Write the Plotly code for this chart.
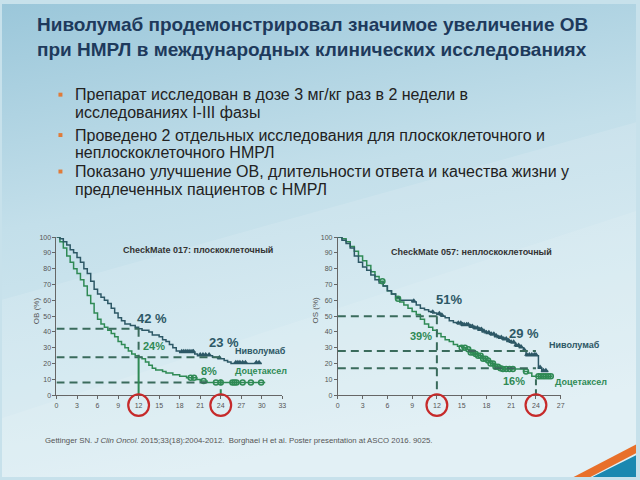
import base64
import plotly.graph_objects as go

# ---------------- data ----------------
title_lines = ["Ниволумаб продемонстрировал значимое увеличение ОВ",
               "при НМРЛ в международных клинических исследованиях"]
bullet_lines = [["Препарат исследован в дозе 3 мг/кг раз в 2 недели в", "исследованиях I-III фазы"],
                ["Проведено 2 отдельных исследования для плоскоклеточного и", "неплоскоклеточного НМРЛ"],
                ["Показано улучшение ОВ, длительности ответа и качества жизни у", "предлеченных пациентов с НМРЛ"]]

# CheckMate 017 (left)
L_niv_t = [0,0.5,1,1.5,2,2.5,3,3.5,4,4.5,5,5.5,6,6.5,7,7.5,8,8.5,9,9.5,10,10.8,11.5,12,12.5,13.5,14,15,15.5,16,16.5,17,17.5,18,20.2,20.6,22.8,23.6,24.5,25,25.5,30]
L_niv_s = [100,99,97,95,92,90,87,84,80,77,72,67,64,62,60,58,55,52,49,47,45,44,43,42,41,40,38,37,35,34,32,30,28,27,26,25,24,23,22,21,20,20]
L_doc_t = [0,0.5,1,1.5,2,2.5,3,3.5,4,4.5,5,5.5,6,6.5,7,7.5,8,8.5,9,9.5,10,10.5,11,11.5,12,12.5,13,13.5,14,14.5,15.5,16,17,18,19,20.5,21,22,30.5]
L_doc_s = [100,97,93,88,84,80,77,73,69,63,58,52,48,45,43,41,39,37,34,32,30,28,26,25,24,23,21,19,17,16,15,14,13,12,11,10,9,8,8]
L_niv_cens = [18.3,18.6,18.9,19.2,19.5,19.8,20.0,21.0,21.4,21.8,22.3,23.8,26.2,26.5,26.8,27.2,27.6,29.2,29.6]
L_doc_cens = [19.6,20.1,21.5,23.3,24.0,25.7,26.0,26.3,27.2,28.4,29.9]

# CheckMate 057 (right)
R_niv_t = [0,0.5,1,1.5,2,2.5,3,3.5,4,4.5,5,5.5,6,6.5,7,7.5,9,9.5,10,10.5,11,11.5,12,12.5,13,13.5,14,14.5,15,16,16.5,17,17.5,18,18.5,19,19.5,20,20.5,21,21.5,22,22.5,22.8,24.3,24.7,25.5]
R_niv_s = [100,98,96,93,88,84,81,79,76,73,71,69,66,64,62,60,59,57,55,54,53,52,51,50,49,47,46,45,44,43,42,41,40,39,38,37,36,35,34,33,31,30,28,25,17,15,15]
R_doc_t = [0,0.5,1,1.5,2,2.5,3,3.5,4,4.5,5,5.5,6,6.5,7,7.5,8,8.5,9,9.5,10,10.5,11,11.5,12,12.5,13,13.5,14,14.5,15,15.5,16,16.5,17,17.5,18,18.5,19,19.5,20,22.5,23,23.5,26]
R_doc_s = [100,99,97,94,91,88,85,82,78,75,72,69,66,64,61,59,57,55,53,51,48,45,43,41,39,37,35,34,32,31,30,29,27,26,25,23,22,20,18,17,16.5,15,14,12,12]
R_niv_cens = [9.2,11.5,12.3,12.6,14.6,14.9,15.1,15.3,15.6,15.8,16.1,16.3,16.6,16.9,17.2,17.4,17.7,18.0,18.3,18.6,18.9,19.2,19.5,19.8,20.1,20.4,20.7,21.0,21.3,21.6,21.9,22.2,22.6,22.9,23.2,23.5,23.8,24.0,24.5,24.9,25.2]
R_doc_cens = [5.4,7.3,15.0,15.4,15.8,16.1,16.4,16.7,17.0,17.3,17.6,17.9,18.2,18.5,18.8,19.1,19.4,19.7,20.0,20.4,20.8,21.2,22.8,24.3,24.6,24.9,25.2,25.5,25.8]

L_xticks = list(range(0, 34, 3))
R_xticks = list(range(0, 28, 3))
y_ticks = list(range(0, 101, 10))
L_ref = [42, 24, 8]   # reference levels
R_ref = [50, 28, 17]
marked_months = [12, 24]

footnote = ("Gettinger SN. <i>J Clin Oncol.</i> 2015;33(18):2004-2012.  "
            "Borghaei H et al. Poster presentation at ASCO 2016. 9025.")

# ---------------- style ----------------
W, H = 640, 480
NIV = "#2d5866"
DOC = "#2f8a55"
DASH = "#3a6b5c"
RED = "#c62a2a"
TICK = "#555555"
FONT = "Liberation Sans, Arial, sans-serif"

def px(x): return x / W
def py(y): return 1 - y / H

def km_at(ts, ss, t):
    v = ss[0]
    for a, b in zip(ts, ss):
        if a <= t:
            v = b
    return v

bg_svg = f'''<svg xmlns="http://www.w3.org/2000/svg" width="{W}" height="{H}">
<defs>
<linearGradient id="g" x1="0" y1="0" x2="0.25" y2="1">
<stop offset="0" stop-color="#9bc7da"/>
<stop offset="0.45" stop-color="#c3dfea"/>
<stop offset="1" stop-color="#dbedf3"/>
</linearGradient>
</defs>
<rect width="{W}" height="{H}" fill="url(#g)"/>
<polygon points="0,300 640,120 640,480 0,480" fill="#ffffff" opacity="0.12"/>
<polygon points="0,420 640,210 640,480 0,480" fill="#ffffff" opacity="0.10"/>
<polygon points="577,480 640,447 640,456 594,480" fill="#e8702a"/>
<polygon points="596,480 640,458 640,480" fill="#1a88b0"/>
</svg>'''
bg_src = "data:image/svg+xml;base64," + base64.b64encode(bg_svg.encode()).decode()

# axis geometry (pixels)
L_dom = [55, 283]
R_dom = [339, 564]
Y_dom = [397, 236.5]

fig = go.Figure()

def add_panel(xa, ya, niv_t, niv_s, doc_t, doc_s, niv_c, doc_c):
    fig.add_trace(go.Scatter(x=doc_t, y=doc_s, mode="lines", line=dict(color=DOC, width=1.5, shape="hv"),
                             xaxis=xa, yaxis=ya, showlegend=False, hoverinfo="skip"))
    fig.add_trace(go.Scatter(x=niv_t, y=niv_s, mode="lines", line=dict(color=NIV, width=1.5, shape="hv"),
                             xaxis=xa, yaxis=ya, showlegend=False, hoverinfo="skip"))
    fig.add_trace(go.Scatter(x=doc_c, y=[km_at(doc_t, doc_s, t) for t in doc_c], mode="markers",
                             marker=dict(symbol="circle-open", size=5, color=DOC, line=dict(width=1.5)),
                             xaxis=xa, yaxis=ya, showlegend=False, hoverinfo="skip"))
    fig.add_trace(go.Scatter(x=niv_c, y=[km_at(niv_t, niv_s, t) + 0.8 for t in niv_c], mode="markers",
                             marker=dict(symbol="triangle-up", size=5, color=NIV),
                             xaxis=xa, yaxis=ya, showlegend=False, hoverinfo="skip"))

add_panel("x", "y", L_niv_t, L_niv_s, L_doc_t, L_doc_s, L_niv_cens, L_doc_cens)
add_panel("x2", "y2", R_niv_t, R_niv_s, R_doc_t, R_doc_s, R_niv_cens, R_doc_cens)

shapes = []
def seg(xr, yr, x0, y0, x1, y1, color, dash="8px,5px", width=2):
    shapes.append(dict(type="line", xref=xr, yref=yr, x0=x0, y0=y0, x1=x1, y1=y1,
                       line=dict(color=color, width=width, dash=dash), layer="above"))

# left reference lines
seg("x", "y", 0, L_ref[0], 12, L_ref[0], DASH)
seg("x", "y", 0, L_ref[1], 24, L_ref[1], DASH)
seg("x", "y", 0, L_ref[2], 22, L_ref[2], DASH)
seg("x", "y", 12, L_ref[0], 12, L_ref[1], DASH)
seg("x", "y", 12, L_ref[1], 12, 0, DOC, dash="solid", width=2)
seg("x", "y", 24, 0, 24, 10, DOC, dash="6px,4px", width=2)
# right reference lines
seg("x2", "y2", 0, R_ref[0], 12, R_ref[0], DASH)
seg("x2", "y2", 0, R_ref[1], 24, R_ref[1], DASH)
seg("x2", "y2", 0, R_ref[2], 24, R_ref[2], DASH)
seg("x2", "y2", 12, R_ref[0], 12, 0, DASH)
seg("x2", "y2", 24, 0, 24, 12, DASH, dash="6px,4px")

# red circles around the 12 and 24 month tick labels (paper coords, outside plot clip)
for dom, rng in ((L_dom, 33), (R_dom, 27)):
    for t in marked_months:
        cx = dom[0] + (dom[1] - dom[0]) * t / rng
        shapes.append(dict(type="circle", xref="paper", yref="paper",
                           x0=px(cx - 10.5), x1=px(cx + 10.5), y0=py(396), y1=py(418),
                           line=dict(color=RED, width=2.2), layer="above"))

ann = []
def txt(x, y, s, size, color, bold=False, xanchor="center", family=FONT, **kw):
    ann.append(dict(x=px(x), y=py(y), xref="paper", yref="paper", text=(f"<b>{s}</b>" if bold else s),
                    showarrow=False, xanchor=xanchor, yanchor="middle",
                    font=dict(size=size, color=color, family=family), **kw))

# title
txt(33, 21, title_lines[0], 19, "#1e3a5c", bold=True, xanchor="left")
txt(33, 46, title_lines[1], 19, "#1e3a5c", bold=True, xanchor="left")
# bullets
bullet_y = [(92, 110), (133, 151), (170, 188)]
for lines, ys in zip(bullet_lines, bullet_y):
    for s, y in zip(lines, ys):
        txt(72, y, s, 16, "#222222", xanchor="left")
    shapes.append(dict(type="rect", xref="paper", yref="paper",
                       x0=px(57), x1=px(61), y0=py(ys[0] + 2), y1=py(ys[0] - 2),
                       fillcolor="#e07b39", line=dict(width=0)))

# panel texts
txt(198, 250, "CheckMate 017: плоскоклеточный", 9, "#333333", bold=True)
txt(474, 252, "CheckMate 057: неплоскоклеточный", 9, "#333333", bold=True)
txt(151, 319, "42 %", 13, NIV, bold=True)
txt(153, 347, "24%", 11, DOC, bold=True)
txt(224, 344, "23 %", 13, NIV, bold=True)
txt(261, 352, "Ниволумаб", 9, NIV, bold=True)
txt(209, 372, "8%", 11, DOC, bold=True)
txt(261, 372, "Доцетаксел", 9, DOC, bold=True)
txt(451, 300, "51%", 13, NIV, bold=True)
txt(423, 337, "39%", 11, DOC, bold=True)
txt(527, 334, "29 %", 13, NIV, bold=True)
txt(578, 346, "Ниволумаб", 9, NIV, bold=True)
txt(517, 383, "16%", 11, DOC, bold=True)
txt(584, 384, "Доцетаксел", 9, DOC, bold=True)
txt(35, 311, "ОВ (%)", 8, TICK, textangle=-90)
txt(316, 311, "OS (%)", 8, TICK, textangle=-90)
# footnote
txt(41, 443, footnote, 7.8, "#555555", xanchor="left")

axis_common = dict(showgrid=False, zeroline=False, showline=True, linecolor="#666666", linewidth=1,
                   ticks="outside", ticklen=3, tickcolor="#666666",
                   tickfont=dict(size=7, color=TICK, family=FONT))
ydom = [py(Y_dom[0]), py(Y_dom[1])]
fig.update_layout(
    width=W, height=H, margin=dict(l=0, r=0, t=0, b=0),
    paper_bgcolor="#c7e1eb", plot_bgcolor="rgba(0,0,0,0)",
    images=[dict(source=bg_src, xref="paper", yref="paper", x=0, y=1, sizex=1, sizey=1,
                 sizing="stretch", xanchor="left", yanchor="top", layer="below")],
    xaxis=dict(domain=[px(L_dom[0]), px(L_dom[1])], range=[0, 33], tickvals=L_xticks, anchor="y", **axis_common),
    yaxis=dict(domain=ydom, range=[0, 100], tickvals=y_ticks, anchor="x", **axis_common),
    xaxis2=dict(domain=[px(R_dom[0]), px(R_dom[1])], range=[0, 27], tickvals=R_xticks, anchor="y2", **axis_common),
    yaxis2=dict(domain=ydom, range=[0, 100], tickvals=y_ticks, anchor="x2", **axis_common),
    shapes=shapes, annotations=ann,
)

fig.write_html("out.html", config={"displayModeBar": False},
               post_script="document.body.style.margin='0';document.body.style.overflow='hidden';")
